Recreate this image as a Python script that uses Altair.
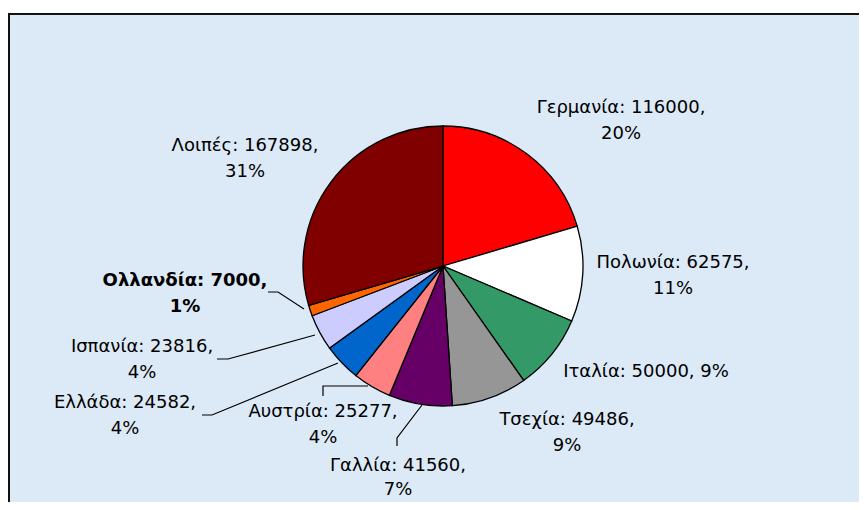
import altair as alt
import pandas as pd

# ---- data ----
names = ["Γερμανία", "Πολωνία", "Ιταλία", "Τσεχία", "Γαλλία",
         "Αυστρία", "Ελλάδα", "Ισπανία", "Ολλανδία", "Λοιπές"]
values = [116000, 62575, 50000, 49486, 41560, 25277, 24582, 23816, 7000, 167898]
percents = [20, 11, 9, 9, 7, 4, 4, 4, 1, 31]

# ---- styling / layout ----
colors = ["#FF0000", "#FFFFFF", "#339966", "#969696", "#660066",
          "#FF8080", "#0066CC", "#CCCCFF", "#FF6600", "#800000"]
# label anchor (centre of first line) in view pixels, single-line flag, bold flag, line gap
label_pos = {
    "Γερμανία": (613, 95, False, False, 26),
    "Πολωνία": (665, 250, False, False, 26),
    "Ιταλία": (638, 359, True, False, 26),
    "Τσεχία": (559, 407, False, False, 26),
    "Γαλλία": (390, 453, False, False, 24),
    "Αυστρία": (315, 399, False, False, 26),
    "Ελλάδα": (117, 390, False, False, 26),
    "Ισπανία": (134, 334, False, False, 26),
    "Ολλανδία": (177, 268, False, True, 26),
    "Λοιπές": (237, 133, False, False, 26),
}
leaders = {
    "Ολλανδία": [(260, 279), (270, 279), (296, 296)],
    "Ισπανία": [(209, 346), (220, 346), (307, 322)],
    "Ελλάδα": [(194, 402), (204, 402), (330, 350)],
    "Αυστρία": [(315, 383), (315, 373), (360, 373)],
    "Γαλλία": [(389, 433), (389, 425), (414, 392)],
}
W, H = 851, 489
CX, CY, R = 435, 253, 140
FONT = "DejaVu Sans"
FS = 18

pie_df = pd.DataFrame({"name": names, "value": values, "order": list(range(len(names)))})

rows = []
for n, v, p in zip(names, values, percents):
    x, y, single, bold, gap = label_pos[n]
    if single:
        rows.append({"x": x, "y": y, "t": f"{n}: {v}, {p}%", "bold": bold})
    else:
        rows.append({"x": x, "y": y, "t": f"{n}: {v},", "bold": bold})
        rows.append({"x": x, "y": y + gap, "t": f"{p}%", "bold": bold})
lab_df = pd.DataFrame(rows)

lrows = []
for n, pts in leaders.items():
    for i, (x, y) in enumerate(pts):
        lrows.append({"seg": n, "i": i, "x": x, "y": y})
lead_df = pd.DataFrame(lrows)

pie = alt.Chart(pie_df).mark_arc(radius=R, stroke="black", strokeWidth=1.3).encode(
    theta=alt.Theta("value:Q", stack=True),
    order=alt.Order("order:Q"),
    color=alt.Color("name:N", scale=alt.Scale(domain=names, range=colors), legend=None),
    x=alt.value(CX),
    y=alt.value(CY),
)

txt_normal = alt.Chart(lab_df).transform_filter("!datum.bold").mark_text(
    font=FONT, fontSize=FS, color="black", align="center", baseline="middle"
).encode(
    x=alt.X("x:Q", scale=None), y=alt.Y("y:Q", scale=None), text="t:N"
)
txt_bold = alt.Chart(lab_df).transform_filter("datum.bold").mark_text(
    font=FONT, fontSize=FS, fontWeight="bold", color="black", align="center", baseline="middle"
).encode(
    x=alt.X("x:Q", scale=None), y=alt.Y("y:Q", scale=None), text="t:N"
)

lines = alt.Chart(lead_df).mark_line(color="black", strokeWidth=1.2).encode(
    x=alt.X("x:Q", scale=None), y=alt.Y("y:Q", scale=None),
    detail="seg:N", order="i:Q"
)

top_border = alt.Chart(pie_df).mark_rule(color="#111111", strokeWidth=2).encode(
    x=alt.value(0), x2=alt.value(W), y=alt.value(1)
)
left_border = alt.Chart(pie_df).mark_rule(color="#111111", strokeWidth=2).encode(
    x=alt.value(1), y=alt.value(0), y2=alt.value(H)
)

chart = alt.layer(pie, lines, txt_normal, txt_bold, top_border, left_border).properties(
    width=W, height=H,
    autosize=alt.AutoSizeParams(type="none"),
    padding={"left": 0, "top": 5, "right": 0, "bottom": 0},
    background="white",
).configure_view(fill="#dce9f6", stroke=None)

chart.save("out.html", embed_options={"renderer": "svg", "actions": False})
